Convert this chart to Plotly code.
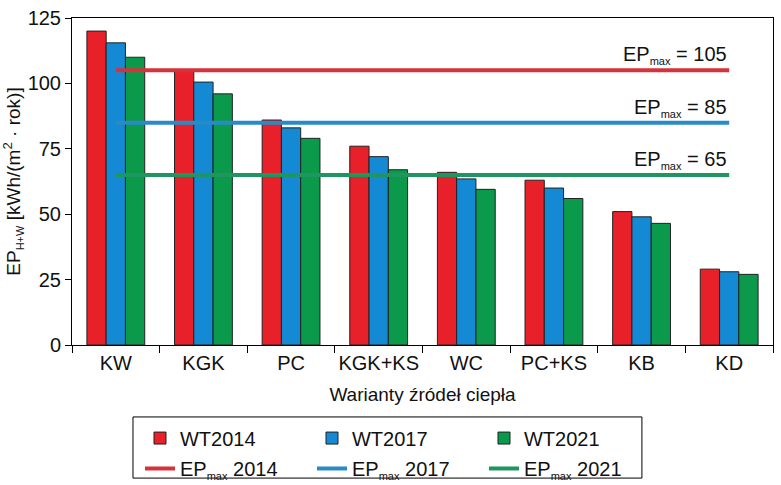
import plotly.graph_objects as go

categories = ["KW", "KGK", "PC", "KGK+KS", "WC", "PC+KS", "KB", "KD"]
wt2014 = [120, 105, 86, 76, 66, 63, 51, 29]
wt2017 = [115.5, 100.5, 83, 72, 63.5, 60, 49, 28]
wt2021 = [110, 96, 79, 67, 59.5, 56, 46.5, 27]
ep_max = [105, 85, 65]
ep_years = ["2014", "2017", "2021"]
bar_names = ["WT2014", "WT2017", "WT2021"]

bar_colors = ["#e8202a", "#138ad3", "#0b9a4c"]
line_colors = ["#d5323c", "#2a8ac6", "#1f9660"]
FONT = "Liberation Sans, Arial, sans-serif"
SUB = '<sub><span style="font-size:11px">{}</span></sub>'

fig = go.Figure()
for name, vals, col in zip(bar_names, [wt2014, wt2017, wt2021], bar_colors):
    fig.add_trace(go.Bar(x=categories, y=vals, name=name, marker_color=col,
                         marker_line=dict(color="#222222", width=1), legend="legend"))
for yr, v, col in zip(ep_years, ep_max, line_colors):
    fig.add_trace(go.Scatter(x=[categories[0], categories[-1]], y=[v, v],
                             name="EP" + SUB.format("max") + " " + yr, legend="legend2",
                             mode="lines", line=dict(color=col, width=4)))
    fig.add_annotation(x=categories[-1], y=v, xref="x", yref="y",
                       text="EP" + SUB.format("max") + f" = {v}", showarrow=False,
                       xanchor="right", yanchor="bottom", yshift=1,
                       font=dict(size=20, color="#111111", family=FONT))

leg_common = dict(orientation="h", xanchor="left", yanchor="top", borderwidth=0,
                  entrywidth=127, font=dict(size=20, family=FONT), bgcolor="rgba(0,0,0,0)")
fig.update_layout(
    width=781, height=485,
    margin=dict(l=72, r=8, t=18, b=140, autoexpand=False),
    plot_bgcolor="white", paper_bgcolor="white",
    font=dict(family=FONT, size=20, color="#111111"),
    barmode="group", bargap=0.34, bargroupgap=0,
    showlegend=True,
    legend=dict(x=0.097, y=-0.225, **leg_common),
    legend2=dict(x=0.097, y=-0.318, **leg_common),
    shapes=[dict(type="rect", xref="paper", yref="paper", x0=0.087, x1=0.813,
                 y0=-0.407, y1=-0.22, line=dict(color="black", width=1))],
)
fig.update_xaxes(showline=True, linecolor="black", linewidth=1, mirror=True,
                 ticks="outside", tickson="boundaries", ticklen=7, tickcolor="black",
                 tickangle=0, automargin=False,
                 title=dict(text="Warianty źródeł ciepła", font=dict(size=19), standoff=14),
                 showgrid=False)
fig.update_yaxes(range=[0, 125], tickvals=[0, 25, 50, 75, 100, 125], automargin=False,
                 showline=True, linecolor="black", linewidth=1, mirror=True,
                 ticks="outside", ticklen=6, tickcolor="black", showgrid=False, zeroline=False,
                 title=dict(text="EP" + SUB.format("H+W") + " [kWh/(m<sup>2</sup> · rok)]",
                            font=dict(size=19), standoff=6))

fig.write_html("out.html")
